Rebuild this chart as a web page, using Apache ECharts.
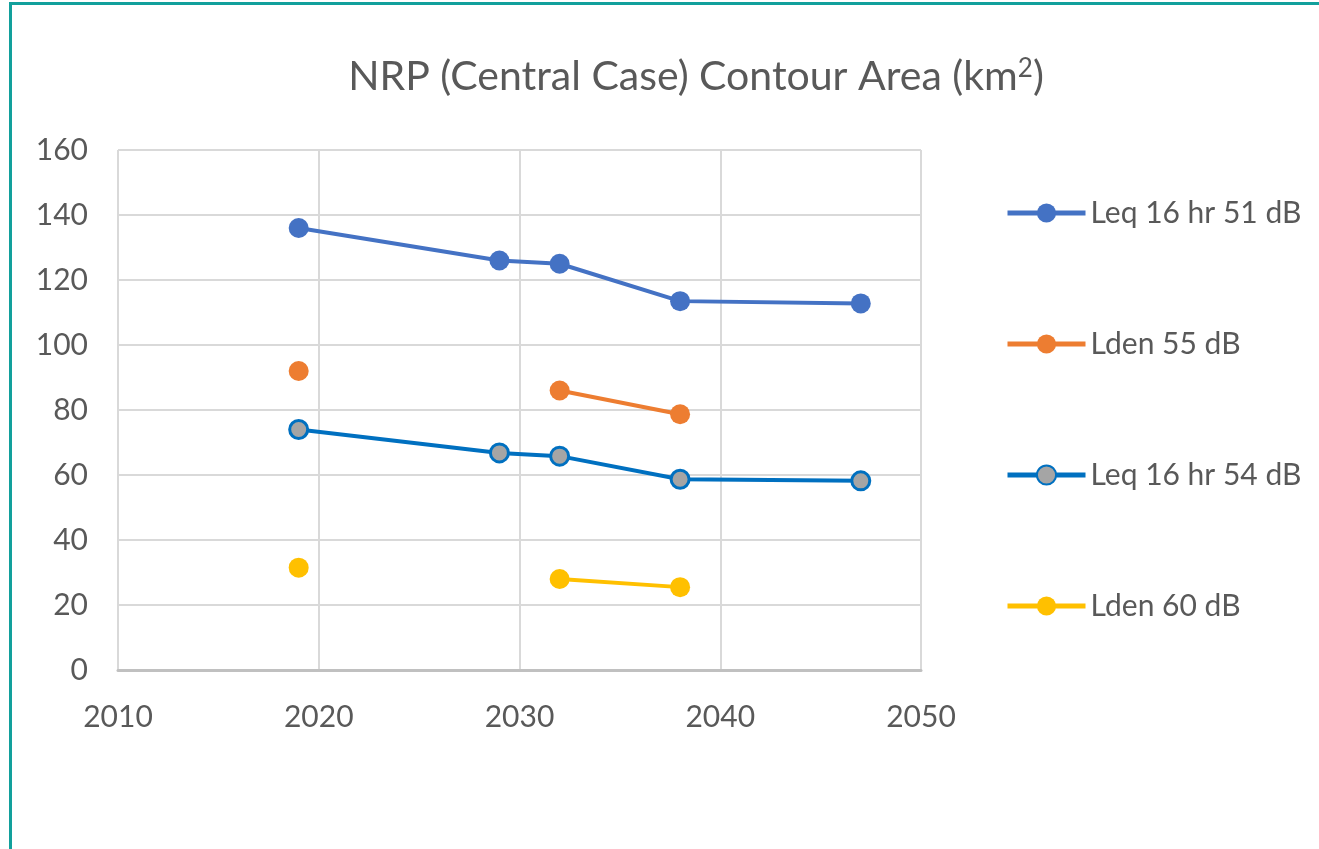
<!DOCTYPE html>
<html>
<head>
<meta charset="utf-8" />
<title>NRP Contour Area</title>
<script src="https://cdn.jsdelivr.net/npm/echarts@6/dist/echarts.min.js"></script>
<style>
  html, body { margin: 0; padding: 0; background: #fff; }
  #frame { position: absolute; left: 9px; top: 2px; width: 1320px; height: 845px;
           border-left: 3px solid #12a09c; border-top: 3px solid #12a09c;
           border-bottom: 2px solid #e0e0e0; }
  #main { position: absolute; left: 0; top: 0; width: 1319px; height: 849px; }
</style>
</head>
<body>
<div id="frame"></div>
<div id="main"></div>
<script type="text/javascript">
// years on the x axis, '-' marks a gap in the line
var years = [2019, 2029, 2032, 2038, 2047];
var leq51 = [136, 126, 125, 113.5, 112.8];
var lden55 = [92, '-', 86, 78.7, '-'];
var leq54 = [74, 66.8, 65.8, 58.7, 58.2];
var lden60 = [31.5, '-', 28, 25.5, '-'];
var xTicks = [2010, 2020, 2030, 2040, 2050];
var yTicks = [0, 20, 40, 60, 80, 100, 120, 140, 160];

function pairs(vals) {
  var out = [];
  for (var i = 0; i < years.length; i++) out.push([years[i], vals[i]]);
  return out;
}

var myChart = echarts.init(document.getElementById('main'));
var fontName = 'Lato';
var textColor = '#595959';

function lineSeries(name, vals, color, fill) {
  return {
    name: name,
    type: 'line',
    data: pairs(vals),
    connectNulls: false,
    symbol: 'circle',
    symbolSize: fill ? 18 : 20,
    lineStyle: { color: color, width: 4 },
    itemStyle: fill ? { color: fill, borderColor: color, borderWidth: 3 } : { color: color },
    emphasis: { disabled: true },
    z: 3
  };
}

var option = {
  animation: false,
  title: {
    text: 'NRP (Central Case) Contour Area (km{sup|2})',
    left: 691,
    textAlign: 'center',
    top: 51,
    textStyle: {
      fontFamily: fontName, fontSize: 41, fontWeight: 'normal', color: textColor,
      rich: { sup: { fontFamily: fontName, fontSize: 26, color: textColor, verticalAlign: 'top', padding: [0, 0, 16, 0] } }
    }
  },
  legend: {
    orient: 'vertical',
    left: 1005,
    top: 198,
    padding: 0,
    itemWidth: 78,
    itemHeight: 24,
    itemGap: 101,
    lineStyle: { width: 5 },
    textStyle: { fontFamily: fontName, fontSize: 30, lineHeight: 30, color: textColor, padding: [0, 0, 0, 0] },
    data: ['Leq 16 hr 51 dB', 'Lden 55 dB', 'Leq 16 hr 54 dB', 'Lden 60 dB']
  },
  grid: { left: 118, right: 398, top: 150, bottom: 179, containLabel: false },
  xAxis: {
    type: 'value',
    min: xTicks[0],
    max: xTicks[xTicks.length - 1],
    interval: 10,
    axisLine: { show: true, lineStyle: { color: '#c0c0c0', width: 3 } },
    axisTick: { show: false },
    axisLabel: { fontFamily: fontName, fontSize: 30, color: textColor, margin: 32, formatter: function (v) { return String(v); } },
    splitLine: { show: true, lineStyle: { color: '#d9d9d9', width: 2 } }
  },
  yAxis: {
    type: 'value',
    min: yTicks[0],
    max: yTicks[yTicks.length - 1],
    interval: 20,
    axisLine: { show: false },
    axisTick: { show: false },
    axisLabel: { fontFamily: fontName, fontSize: 30, color: textColor, margin: 30 },
    splitLine: { show: true, lineStyle: { color: '#d9d9d9', width: 2 } }
  },
  series: [
    lineSeries('Leq 16 hr 51 dB', leq51, '#4472c4'),
    lineSeries('Lden 55 dB', lden55, '#ed7d31'),
    lineSeries('Leq 16 hr 54 dB', leq54, '#0070c0', '#a5a5a5'),
    lineSeries('Lden 60 dB', lden60, '#ffc000')
  ]
};
myChart.setOption(option);
</script>
</body>
</html>
